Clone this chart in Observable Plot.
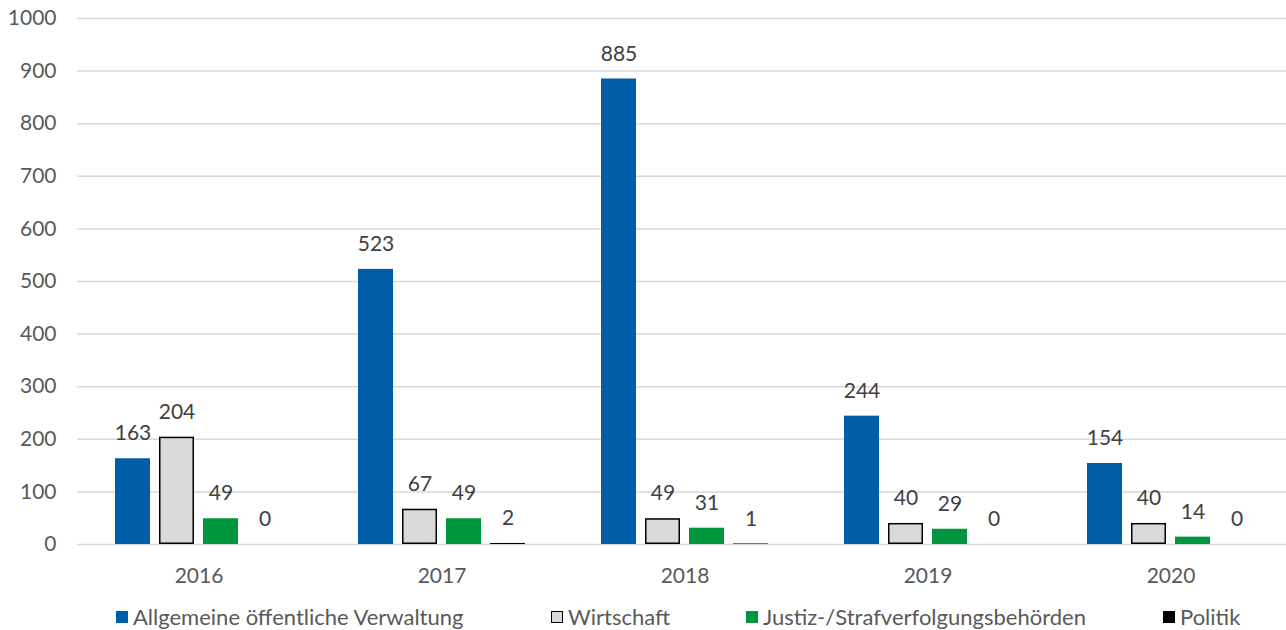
<!DOCTYPE html>
<html>
<head>
<meta charset="utf-8">
<script src="https://cdn.jsdelivr.net/npm/d3@7"></script>
<script src="https://cdn.jsdelivr.net/npm/@observablehq/plot@0.6"></script>
<style>
  html, body { margin: 0; padding: 0; background: #fff; }
  body { width: 1286px; height: 630px; overflow: hidden; font-family: Lato, "Liberation Sans", sans-serif; }
  #legend { position: relative; width: 1286px; height: 40px; font-size: 22px; color: #595959; }
  .item { position: absolute; top: 13px; display: flex; align-items: center; white-space: nowrap; }
  .sw { width: 12px; height: 12px; margin-right: 5px; box-sizing: border-box; }
</style>
</head>
<body>
<div id="chart"></div>
<div id="legend"></div>
<script>
const years = ["2016", "2017", "2018", "2019", "2020"];
const seriesNames = ["Allgemeine öffentliche Verwaltung", "Wirtschaft", "Justiz-/Strafverfolgungsbehörden", "Politik"];
const seriesColors = ["#005EA8", "#D9D9D9", "#009640", "#000000"];
const verwaltung = [163, 523, 885, 244, 154];
const wirtschaft = [204, 67, 49, 40, 40];
const justiz = [49, 49, 31, 29, 14];
const politik = [0, 2, 1, 0, 0];
const yTicks = [0, 100, 200, 300, 400, 500, 600, 700, 800, 900, 1000];

const seriesValues = [verwaltung, wirtschaft, justiz, politik];
const data = [];
years.forEach((yr, i) => {
  seriesNames.forEach((s, j) => data.push({year: yr, series: s, value: seriesValues[j][i]}));
});

const chart = Plot.plot({
  width: 1286,
  height: 590,
  marginLeft: 77,
  marginRight: 0,
  marginTop: 18,
  marginBottom: 46,
  style: {fontFamily: "Lato, 'Liberation Sans', sans-serif", fontSize: "21px", color: "#595959", background: "#fff"},
  fx: {domain: years, range: [77, 1292], padding: 0, label: null, axis: "bottom", tickSize: 0, tickPadding: 24},
  x: {domain: seriesNames, paddingInner: 0.2045, paddingOuter: 0.852, axis: null},
  y: {domain: [0, 1000], ticks: yTicks, label: null, tickSize: 0, tickPadding: 21, tickFormat: d => String(d)},
  color: {domain: seriesNames, range: seriesColors},
  marks: [
    Plot.ruleY(yTicks, {stroke: "#D9D9D9", strokeWidth: 1.5}),
    Plot.barY(data, {fx: "year", x: "series", y: "value", fill: "series"}),
    Plot.barY(data.filter(d => d.series === "Wirtschaft"), {fx: "year", x: "series", y: "value", fill: "none", stroke: "#000", strokeWidth: 1.5, inset: 0.75}),
    Plot.text(data, {fx: "year", x: "series", y: "value", text: d => String(d.value), dy: -25, fill: "#404040", fontSize: 21})
  ]
});
document.getElementById("chart").appendChild(chart);

const legend = document.getElementById("legend");
const legendLeft = [116, 551, 746, 1163];
seriesNames.forEach((s, i) => {
  const it = document.createElement("div");
  it.className = "item";
  it.style.left = legendLeft[i] + "px";
  const sw = document.createElement("span");
  sw.className = "sw";
  sw.style.background = seriesColors[i];
  if (s === "Wirtschaft") sw.style.border = "1.5px solid #000";
  const tx = document.createElement("span");
  tx.textContent = s;
  it.appendChild(sw); it.appendChild(tx);
  legend.appendChild(it);
});
</script>
</body>
</html>
